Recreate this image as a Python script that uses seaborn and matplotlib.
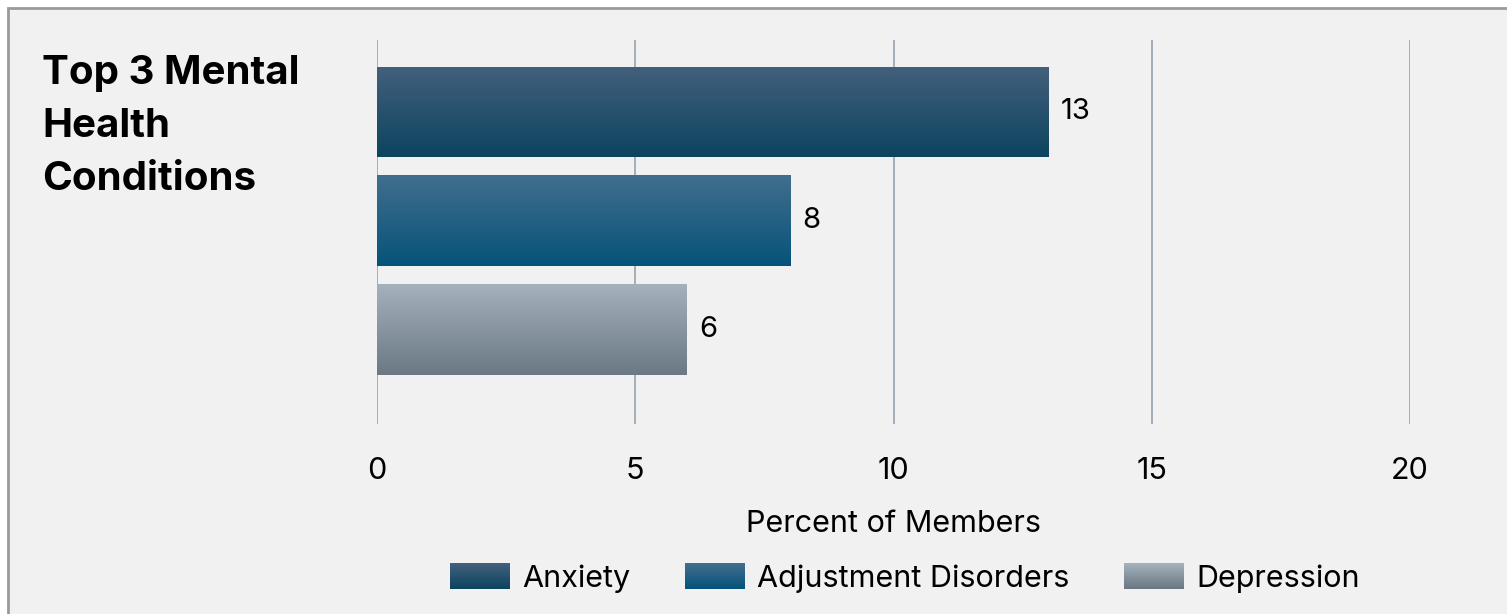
import numpy as np
import pandas as pd
import matplotlib
matplotlib.use("Agg")
import matplotlib.pyplot as plt
import seaborn as sns
from matplotlib.patches import Rectangle
from matplotlib.legend_handler import HandlerBase
from matplotlib.colors import LinearSegmentedColormap

categories = ["Anxiety", "Adjustment Disorders", "Depression"]
values = [13, 8, 6]
xticks = [0, 5, 10, 15, 20]
title_text = "Top 3 Mental\nHealth\nConditions"
xlabel_text = "Percent of Members"

grad_top = ["#43607c", "#426e8d", "#a5b1bc"]
grad_bottom = ["#0c4460", "#05537a", "#6b7984"]

sns.set_theme(style="white")
plt.rcParams["font.family"] = ["Inter", "DejaVu Sans"]
plt.rcParams["text.color"] = "black"
plt.rcParams["xtick.color"] = "black"
plt.rcParams["axes.labelcolor"] = "black"

BG = "#f1f1f1"
FS = 22
fig = plt.figure(figsize=(15.07, 6.14), dpi=100)
fig.patch.set_facecolor("white")
fig.patches.append(Rectangle((8 / 1507, -0.1), 1.2, 1 - 8 / 614 + 0.1,
                             transform=fig.transFigure, facecolor=BG,
                             edgecolor="#9a9a9a", linewidth=2, zorder=-10))

ax = fig.add_axes([377 / 1507, 1 - 424 / 614, (1410 - 377) / 1507, (424 - 40) / 614])
ax.set_facecolor("none")

df = pd.DataFrame({"cat": categories, "val": values})
mid = [tuple((np.array(matplotlib.colors.to_rgb(a)) + np.array(matplotlib.colors.to_rgb(b))) / 2)
       for a, b in zip(grad_top, grad_bottom)]
sns.barplot(data=df, y="cat", x="val", hue="cat", palette=mid, orient="h",
            width=0.83, ax=ax, legend=False, dodge=False)

ax.set_xlim(0, 20)
ax.set_ylim(2.87, -0.66)

# gradient fill
for i, patch in enumerate(ax.patches):
    x0, y0 = patch.get_x(), patch.get_y()
    w, h = patch.get_width(), patch.get_height()
    if w == 0:
        continue
    idx = int(round(y0 + h / 2))
    cmap = LinearSegmentedColormap.from_list("g", [grad_top[idx], grad_bottom[idx]])
    grad = np.linspace(0, 1, 256).reshape(-1, 1)
    im = ax.imshow(grad, cmap=cmap, aspect="auto",
                   extent=[x0, x0 + w, y0 + h, y0], origin="upper", zorder=2)
    im.set_clip_path(patch)
    patch.set_facecolor("none")
    patch.set_edgecolor("none")
    ax.text(x0 + w + 0.23, y0 + h / 2, f"{values[idx]}", va="center", ha="left",
            fontsize=FS - 1, color="black")

ax.set_xlim(0, 20)
ax.set_ylim(2.87, -0.66)
ax.set_aspect("auto")

ax.set_xticks(xticks)
ax.set_xticklabels([str(t) for t in xticks], fontsize=FS, color="black")
ax.tick_params(axis="x", length=0, pad=24)
ax.set_yticks([])
ax.set_ylabel("")
ax.set_xlabel(xlabel_text, fontsize=FS, labelpad=18, color="black")
ax.xaxis.grid(True, color="#9eaab5", linewidth=1.3)
ax.set_axisbelow(True)
for s in ax.spines.values():
    s.set_visible(False)

fig.text(42 / 1507, 1 - 55 / 614, title_text, fontsize=29, fontweight="bold",
         va="top", ha="left", linespacing=1.56, color="black")


class HandlerGradient(HandlerBase):
    def __init__(self, top, bottom):
        super().__init__()
        self.top = top
        self.bottom = bottom

    def create_artists(self, legend, orig_handle, xdescent, ydescent, width, height, fontsize, trans):
        n = 30
        c0 = np.array(matplotlib.colors.to_rgb(self.top))
        c1 = np.array(matplotlib.colors.to_rgb(self.bottom))
        arts = []
        for k in range(n):
            f = k / (n - 1)
            col = c0 * (1 - f) + c1 * f
            yk = -ydescent + height - (k + 1) * height / n
            r = Rectangle((-xdescent, yk), width, height / n + 0.3, facecolor=col,
                          edgecolor="none", transform=trans)
            arts.append(r)
        return arts


handles = [Rectangle((0, 0), 1, 1) for _ in categories]
handler_map = {h: HandlerGradient(t, b) for h, t, b in zip(handles, grad_top, grad_bottom)}
leg = fig.legend(handles, categories, loc="center", bbox_to_anchor=(905 / 1507, 1 - 578 / 614),
                 ncol=3, frameon=False, fontsize=FS, handler_map=handler_map,
                 handlelength=1.96, handleheight=0.9, handletextpad=0.4, columnspacing=1.8,
                 labelcolor="black")

fig.savefig("out.png", dpi=100, facecolor=fig.get_facecolor())
